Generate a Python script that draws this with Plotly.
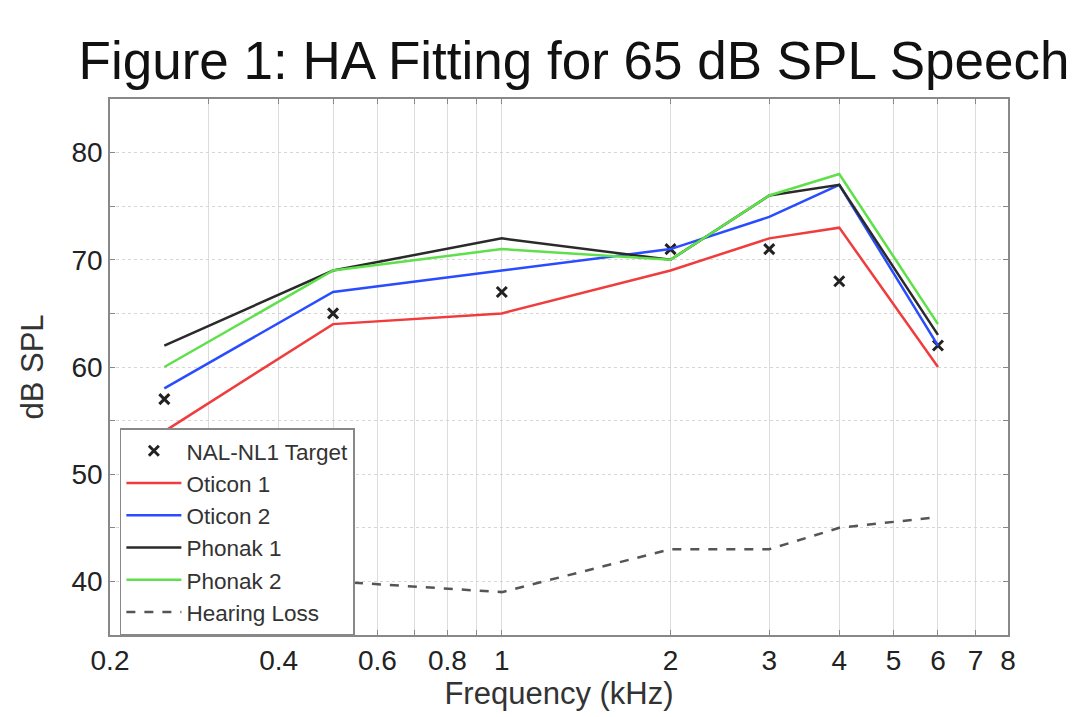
import plotly.graph_objects as go

freqs = [0.25, 0.5, 1, 2, 3, 4, 6]
nal_target = [57, 65, 67, 71, 71, 68, 62]
oticon1 = [54, 64, 65, 69, 72, 73, 60]
oticon2 = [58, 67, 69, 71, 74, 77, 62]
phonak1 = [62, 69, 72, 70, 76, 77, 63]
phonak2 = [60, 69, 71, 70, 76, 78, 64]
hearing_loss = [45, 40, 39, 43, 43, 45, 46]

x_tickvals = [0.2, 0.3, 0.4, 0.5, 0.6, 0.7, 0.8, 0.9, 1, 2, 3, 4, 5, 6, 7, 8]
x_ticktext = ["0.2", "", "0.4", "", "0.6", "", "0.8", "", "1", "2", "3", "4", "5", "6", "7", "8"]
y_tickvals = [40, 45, 50, 55, 60, 65, 70, 75, 80]
y_ticktext = ["40", "", "50", "", "60", "", "70", "", "80"]

FONT = "Liberation Sans, Arial, sans-serif"

fig = go.Figure()
fig.add_trace(go.Scatter(x=freqs, y=nal_target, mode="markers", name="NAL-NL1 Target",
                         marker=dict(symbol="x-thin", size=10, color="#222222",
                                     line=dict(width=3, color="#222222"))))
fig.add_trace(go.Scatter(x=freqs, y=oticon1, mode="lines", name="Oticon 1",
                         line=dict(color="#f03c3c", width=2.5)))
fig.add_trace(go.Scatter(x=freqs, y=oticon2, mode="lines", name="Oticon 2",
                         line=dict(color="#2a4cff", width=2.5)))
fig.add_trace(go.Scatter(x=freqs, y=phonak1, mode="lines", name="Phonak 1",
                         line=dict(color="#2a2a2a", width=2.5)))
fig.add_trace(go.Scatter(x=freqs, y=phonak2, mode="lines", name="Phonak 2",
                         line=dict(color="#5ee04a", width=2.5)))
fig.add_trace(go.Scatter(x=freqs, y=hearing_loss, mode="lines", name="Hearing Loss",
                         line=dict(color="#555555", width=2.5, dash="dash")))

fig.update_layout(
    width=1081, height=717,
    margin=dict(l=110, r=73, t=99, b=82),
    paper_bgcolor="white", plot_bgcolor="white",
    font=dict(family=FONT, color="#222222"),
    title=dict(text="Figure 1: HA Fitting for 65 dB SPL Speech", x=0.531, xanchor="center",
               y=0.915, yanchor="middle", font=dict(size=53, family=FONT, color="#111111")),
    showlegend=True,
    legend=dict(x=0.011, y=0.386, xanchor="left", yanchor="top",
                bgcolor="white", bordercolor="#888888", borderwidth=1.5,
                font=dict(size=22.5, family=FONT, color="#333333"), tracegroupgap=0,
                itemwidth=55),
)
fig.update_xaxes(
    type="log", range=[-0.69897, 0.90309],
    tickmode="array", tickvals=x_tickvals, ticktext=x_ticktext,
    tickfont=dict(size=28, family=FONT, color="#222222"),
    showgrid=True, gridcolor="#dcdcdc", gridwidth=1,
    showline=True, linecolor="#888888", linewidth=1.5, mirror="ticks",
    ticks="inside", ticklen=5, tickcolor="#888888",
    title=dict(text="Frequency (kHz)", font=dict(size=31, family=FONT, color="#333333"), standoff=7),
    automargin=False,
    zeroline=False,
)
fig.update_yaxes(
    range=[35, 85],
    tickmode="array", tickvals=y_tickvals, ticktext=y_ticktext,
    tickfont=dict(size=28, family=FONT, color="#222222"),
    showgrid=True, gridcolor="#d6d6d6", gridwidth=1, griddash="dot",
    showline=True, linecolor="#888888", linewidth=1.5, mirror="ticks",
    ticks="inside", ticklen=5, tickcolor="#888888",
    title=dict(text="dB SPL", font=dict(size=31, family=FONT, color="#333333"), standoff=19),
    automargin=False,
    zeroline=False,
)

fig.write_html("out.html")
